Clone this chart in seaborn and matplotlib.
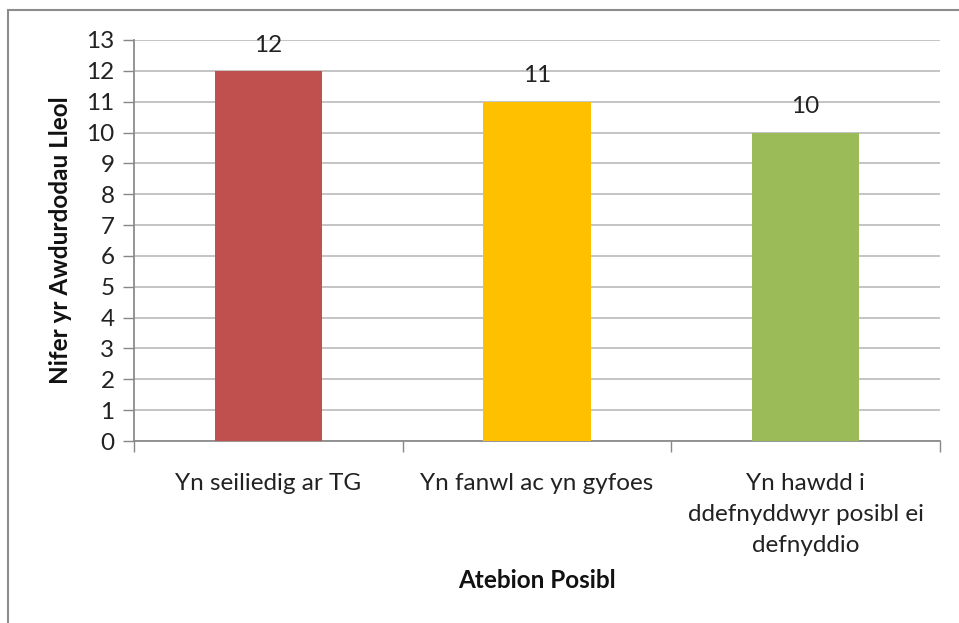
import matplotlib
matplotlib.use("Agg")
import matplotlib.pyplot as plt
import seaborn as sns
import pandas as pd
from matplotlib.patches import Rectangle

categories = ["Yn seiliedig ar TG", "Yn fanwl ac yn gyfoes", "Yn hawdd i\nddefnyddwyr posibl ei\ndefnyddio"]
values = [12, 11, 10]
colors = ["#C0504D", "#FFC000", "#9BBB59"]
yticks = list(range(0, 14))

sns.set_theme(style="white")
plt.rcParams["font.family"] = ["Lato", "DejaVu Sans"]
FS = 17.5

df = pd.DataFrame({"cat": categories, "val": values})

fig = plt.figure(figsize=(9.59, 6.23), dpi=100)
ax = fig.add_axes([134/959, 1 - 441/623, (940-134)/959, (441-40)/623])

sns.barplot(data=df, x="cat", y="val", hue="cat", palette=colors, legend=False,
            width=0.4, saturation=1, ax=ax, zorder=3, linewidth=0, edgecolor="none")

ax.set_ylim(0, 13)
ax.set_xlim(-0.5, 2.5)
ax.set_yticks(yticks)
ax.set_yticklabels([str(t) for t in yticks], fontsize=FS, color="#222222")
for y in yticks:
    ax.axhline(y, color="#BFBFBF", lw=1.3, zorder=1)

ax.set_xticks([-0.5, 0.5, 1.5, 2.5], minor=False)
ax.set_xticklabels([])
ax.set_xticks([0, 1, 2], minor=True)
ax.set_xticklabels(categories, minor=True, fontsize=FS, color="#222222", linespacing=1.6, va="top")
ax.tick_params(axis="x", which="minor", length=0, pad=23)
ax.tick_params(axis="x", which="major", length=8, width=1, color="#888888", direction="out", bottom=True)
ax.tick_params(axis="y", length=8, width=1, color="#888888", direction="out", left=True, pad=6)

for s in ["top", "right"]:
    ax.spines[s].set_visible(False)
ax.spines["left"].set_color("#888888")
ax.spines["bottom"].set_color("#888888")

for i, v in enumerate(values):
    ax.annotate(str(v), (i, v), xytext=(0, 11), textcoords="offset points",
                ha="center", va="bottom", fontsize=FS, color="#222222")

ax.set_xlabel("Atebion Posibl", fontsize=FS, fontweight="bold", color="#111111", va="center")
ax.xaxis.set_label_coords(537/959, 1 - 581/623, transform=fig.transFigure)

ax.set_ylabel("Nifer yr Awdurdodau Lleol", fontsize=FS, fontweight="bold", color="#111111", va="center")
ax.yaxis.set_label_coords(60/959, 1 - 240/623, transform=fig.transFigure)

fig.patches.append(Rectangle((8/959, -0.1), 1.2, 1 - 10/623 + 0.1, transform=fig.transFigure,
                             fill=False, edgecolor="#8C8C8C", lw=1.5))

fig.savefig("out.png", dpi=100)
